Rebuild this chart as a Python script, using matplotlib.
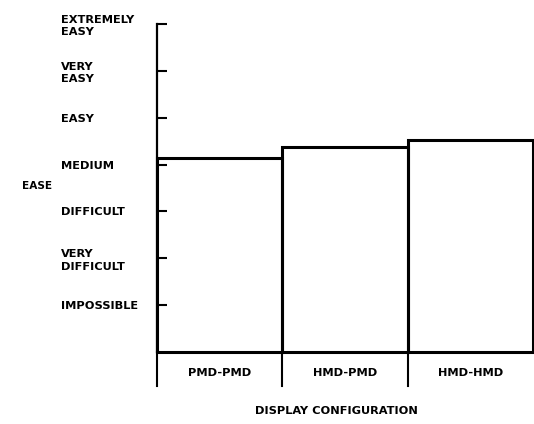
import matplotlib.pyplot as plt

plt.rcParams['font.family'] = ['DejaVu Sans']
plt.rcParams['font.weight'] = 'bold'

configs = ['PMD-PMD', 'HMD-PMD', 'HMD-HMD']
ease = [4.15, 4.38, 4.52]
levels = [1, 2, 3, 4, 5, 6, 7]
level_labels = ['IMPOSSIBLE', 'VERY\nDIFFICULT', 'DIFFICULT', 'MEDIUM',
                'EASY', 'VERY\nEASY', 'EXTREMELY\nEASY']

W, H = 534, 424
fs = 8.2
fig = plt.figure(figsize=(W / 100, H / 100), dpi=100)
ax = fig.add_axes([157 / W, 1 - 352 / H, 376 / W, 328 / H])

x = range(len(configs))
ax.bar(x, ease, width=1.0, facecolor='none', edgecolor='black',
       linewidth=2.2, clip_on=False)

ax.set_xlim(-0.5, 2.5)
ax.set_ylim(0, 7)

for s in ['top', 'right']:
    ax.spines[s].set_visible(False)
ax.spines['left'].set_linewidth(1.6)
ax.spines['bottom'].set_linewidth(1.3)

ax.set_xticks([])
ax.set_yticks(levels)
ax.set_yticklabels(level_labels, fontsize=fs, fontweight='bold',
                   linespacing=1.3)
for lab in ax.get_yticklabels():
    lab.set_ha('left')
ax.tick_params(axis='y', direction='in', length=7.5, width=1.5, pad=69)

# category box below the baseline
for xb in [-0.5, 0.5, 1.5]:
    ax.plot([xb, xb], [0, -0.72], color='black', lw=1.5, clip_on=False)
for i, c in enumerate(configs):
    ax.text(i, -0.45, c, ha='center', va='center', fontsize=fs,
            fontweight='bold')

fig.text(22 / W, 1 - 186 / H, 'EASE', ha='left', va='center',
         fontsize=7.6, fontweight='bold')
fig.text(336 / W, 1 - 411 / H, 'DISPLAY CONFIGURATION', ha='center',
         va='center', fontsize=fs, fontweight='bold')

fig.savefig('out.png', dpi=100)
